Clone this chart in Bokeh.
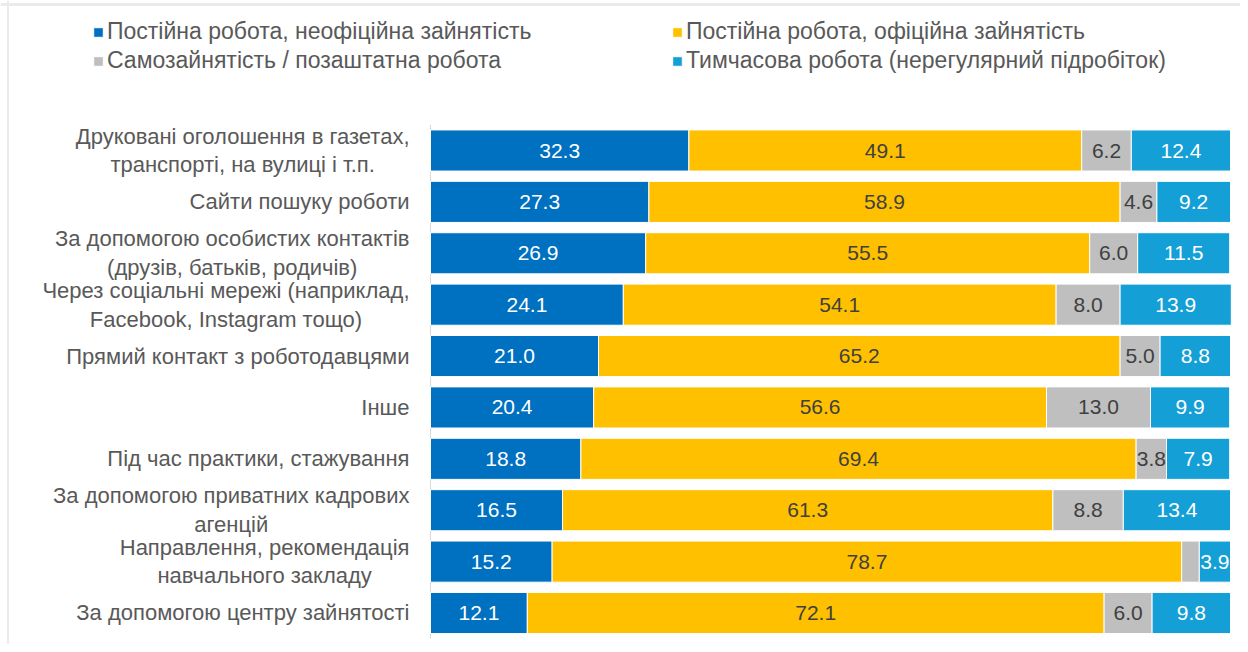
from bokeh.plotting import figure
from bokeh.models import Range1d, ColumnDataSource, Legend, LegendItem, LabelSet, Span
from bokeh.core.properties import value
from bokeh.embed import file_html
from bokeh.resources import INLINE

categories = [
    "Друковані оголошення в газетах,\nтранспорті, на вулиці і т.п.",
    "Сайти пошуку роботи",
    "За допомогою особистих контактів\n(друзів, батьків, родичів)",
    "Через соціальні мережі (наприклад,\nFacebook, Instagram тощо)",
    "Прямий контакт з роботодавцями",
    "Інше",
    "Під час практики, стажування",
    "За допомогою приватних кадрових\nагенцій",
    "Направлення, рекомендація\nнавчального закладу",
    "За допомогою центру зайнятості",
]
informal = [32.3, 27.3, 26.9, 24.1, 21.0, 20.4, 18.8, 16.5, 15.2, 12.1]
official = [49.1, 58.9, 55.5, 54.1, 65.2, 56.6, 69.4, 61.3, 78.7, 72.1]
selfemp = [6.2, 4.6, 6.0, 8.0, 5.0, 13.0, 3.8, 8.8, 2.2, 6.0]
temporary = [12.4, 9.2, 11.5, 13.9, 8.8, 9.9, 7.9, 13.4, 3.9, 9.8]

series_names = [
    "Постійна робота, неофіційна зайнятість",
    "Постійна робота, офіційна зайнятість",
    "Самозайнятість / позаштатна робота",
    "Тимчасова робота (нерегулярний підробіток)",
]
series_values = [informal, official, selfemp, temporary]
colors = ["#0070C0", "#FFC000", "#BFBFBF", "#149FD6"]
label_colors = ["white", "#404040", "#404040", "white"]

FONT = "Liberation Sans"
n = len(categories)
ys = [n - 1 - i for i in range(n)]

p = figure(width=1240, height=644, output_backend="svg", toolbar_location=None,
           x_range=Range1d(-53.75, 101.25), y_range=Range1d(-0.613, 11.919),
           x_axis_location=None, y_axis_location=None,
           min_border_left=0, min_border_right=0, min_border_top=0, min_border_bottom=0)
p.outline_line_color = None
p.xgrid.visible = False
p.ygrid.visible = False
p.background_fill_color = "white"
p.border_fill_color = "white"

# light frame lines (top and left) of the chart area
p.add_layout(Span(location=11.919 - 4 / 51.39, dimension="width",
                  line_color="#EBEBEB", line_width=3))
p.add_layout(Span(location=-53.75 + 7.5 / 8, dimension="height",
                  line_color="#EBEBEB", line_width=2))

# category axis line
p.segment(x0=[0], y0=[-0.5], x1=[0], y1=[n - 0.5], line_color="#D9D9D9", line_width=1)

renderers = []
left = [0.0] * n
for k, vals in enumerate(series_values):
    right = [l + v for l, v in zip(left, vals)]
    centers = [(l + r) / 2 for l, r in zip(left, right)]
    texts = [f"{v:.1f}" if v >= 3 else "" for v in vals]
    src = ColumnDataSource(dict(y=ys, left=left, right=right, c=centers, t=texts))
    r = p.hbar(y="y", left="left", right="right", height=0.8, source=src,
               fill_color=colors[k], line_color="white", line_width=1)
    renderers.append(r)
    p.add_layout(LabelSet(x="c", y="y", text="t", source=src, text_align="center",
                          text_baseline="middle", text_color=label_colors[k],
                          text_font=value(FONT), text_font_size="21px"))
    left = right

# category labels: block anchored at the right, lines centred
cat_src = ColumnDataSource(dict(x=[0] * n, y=ys, t=categories))
p.text(x="x", y="y", text="t", source=cat_src, x_offset=-21,
       anchor="center_right", text_align="center", text_baseline="middle",
       text_font=value(FONT), text_font_size="22px", text_color="#595959",
       text_line_height=1.15)

def make_legend(idx, loc):
    items = [LegendItem(label=series_names[i], renderers=[renderers[i]]) for i in idx]
    lg = Legend(items=items, location=loc, orientation="vertical",
                glyph_width=12, glyph_height=12,
                label_standoff=3, spacing=2, padding=0, margin=0,
                border_line_color=None, background_fill_alpha=0,
                label_text_font=FONT, label_text_font_size="23px",
                label_text_color="#595959")
    p.add_layout(lg, "center")

make_legend([0, 2], (92, 570))
make_legend([1, 3], (671, 570))

open("out.html", "w").write(file_html(p, INLINE))
